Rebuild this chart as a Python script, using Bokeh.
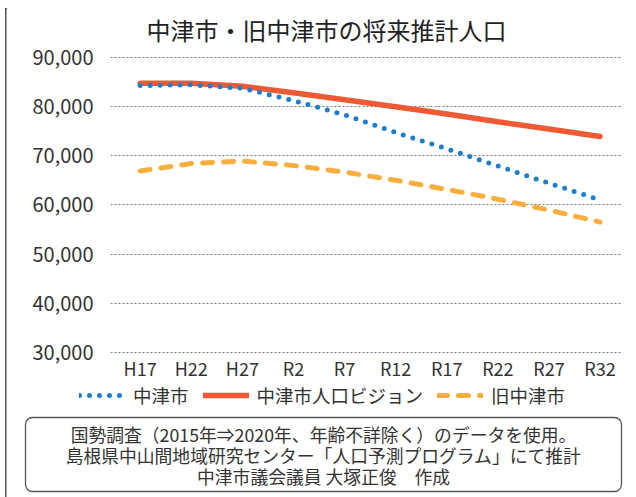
from bokeh.plotting import figure
from bokeh.models import Range1d, FixedTicker, NumeralTickFormatter, Legend, LegendItem
from bokeh.layouts import row, column
from bokeh.core.properties import value
from bokeh.embed import file_html
from bokeh.resources import INLINE

# ---- data ----
categories = ["H17", "H22", "H27", "R2", "R7", "R12", "R17", "R22", "R27", "R32"]
nakatsu = [84250, 84400, 83700, 81200, 78300, 74700, 71400, 67900, 64400, 61000]
vision = [84700, 84700, 84100, 82800, 81350, 79950, 78450, 76900, 75400, 73900]
old_nakatsu = [66900, 68400, 68900, 68000, 66650, 65000, 63150, 61150, 58950, 56500]
y_ticks = [30000, 40000, 50000, 60000, 70000, 80000, 90000]

title_text = "中津市・旧中津市の将来推計人口"
legend_labels = ["中津市", "中津市人口ビジョン", "旧中津市"]
note_lines = [
    "国勢調査（2015年⇒2020年、年齢不詳除く）のデータを使用。",
    "島根県中山間地域研究センター「人口予測プログラム」にて推計",
    "中津市議会議員 大塚正俊　作成",
]

FONT = "Noto Sans CJK JP"
TXT = "#333333"
FRAME = "#555555"
style_nak = dict(line_color="#1b7fcc", line_width=5, line_dash="0 10", line_cap="round")
style_vis = dict(line_color="#ee5a33", line_width=5.5, line_cap="round")
style_old = dict(line_color="#f9ae3d", line_width=5, line_dash="10 11", line_cap="round")

STRIP = 7          # width of the left border strip
W = 636 - STRIP    # width of the main column
H_HEAD, H_CHART, H_FOOT = 9, 374, 114
H_ALL = H_HEAD + H_CHART + H_FOOT


def blank(width, height):
    f = figure(width=width, height=height, output_backend="svg",
               toolbar_location=None, x_axis_location=None,
               y_axis_location=None, min_border=0, frame_align=False,
               x_range=Range1d(0, width), y_range=Range1d(height, 0))
    f.outline_line_color = None
    f.xgrid.visible = False
    f.ygrid.visible = False
    f.background_fill_color = "white"
    f.border_fill_color = "white"
    return f


# ---- left border strip ----
strip = blank(STRIP, H_ALL)
strip.line([5.25, 5.25], [7.5, H_ALL], line_color=FRAME, line_width=1.5)
strip.line([4.5, STRIP], [8.25, 8.25], line_color=FRAME, line_width=1.5)

# ---- header (top border) ----
head = blank(W, H_HEAD)
head.line([0, W], [8.25, 8.25], line_color=FRAME, line_width=1.5)

# ---- chart ----
xs = list(range(len(categories)))
p = figure(width=W, height=H_CHART, output_backend="svg", toolbar_location=None,
           x_range=Range1d(-0.58, 9.42), y_range=Range1d(29798, 99697),
           min_border_left=103, min_border_right=15,
           min_border_top=0, min_border_bottom=28, frame_align=False)
p.outline_line_color = None
p.background_fill_color = "white"
p.border_fill_color = "white"

p.line(xs, old_nakatsu, **style_old)
p.line(xs, vision, **style_vis)
p.line(xs, nakatsu, **style_nak)

# title, placed in the empty space above the 90,000 gridline
p.text(x=[3.647], y=[95657], text=[title_text], text_font=value(FONT),
       text_font_size=value("24px"), text_color="#222222",
       text_align="center", text_baseline="middle")

p.xaxis.ticker = FixedTicker(ticks=xs)
p.xaxis.major_label_overrides = {i: c for i, c in enumerate(categories)}
p.yaxis.ticker = FixedTicker(ticks=y_ticks)
p.yaxis.formatter = NumeralTickFormatter(format="0,0")
for ax in (p.xaxis, p.yaxis):
    ax.axis_line_color = None
    ax.major_tick_line_color = None
    ax.minor_tick_line_color = None
    ax.major_tick_out = 0
    ax.major_tick_in = 0
    ax.major_label_text_font = FONT
    ax.major_label_text_color = TXT
p.yaxis.major_label_text_font_size = "20px"
p.yaxis.major_label_standoff = 17
p.xaxis.major_label_text_font_size = "18px"
p.xaxis.major_label_standoff = 1

p.xgrid.grid_line_color = None
p.ygrid.ticker = FixedTicker(ticks=y_ticks)
p.ygrid.grid_line_color = "#777777"
p.ygrid.grid_line_dash = "2 2"
p.ygrid.grid_line_width = 1

# ---- footer (legend + note box) ----
foot = blank(W, H_FOOT)
# legend sample renderers: same data/style, fall outside this panel's range
l_nak = foot.line(xs, nakatsu, **style_nak)
l_vis = foot.line(xs, vision, **style_vis)
l_old = foot.line(xs, old_nakatsu, **style_old)
legend = Legend(items=[LegendItem(label=legend_labels[0], renderers=[l_nak]),
                       LegendItem(label=legend_labels[1], renderers=[l_vis]),
                       LegendItem(label=legend_labels[2], renderers=[l_old])],
                orientation="horizontal", location=(72, 89),
                padding=0, margin=0, spacing=14, label_standoff=8,
                glyph_width=46, glyph_height=20, label_height=20,
                label_text_font=FONT, label_text_font_size="18.5px",
                label_text_color=TXT, border_line_color=None,
                background_fill_alpha=0)
foot.add_layout(legend, "center")

foot.quad(left=[18], right=[614], top=[34], bottom=[108], fill_alpha=0,
          line_color=FRAME, line_width=1.3, border_radius=7)
foot.text(x=[316, 316, 316], y=[50, 71, 92], text=note_lines,
          text_font=value(FONT), text_font_size=value("17.8px"),
          text_color=TXT, text_align="center", text_baseline="middle")

layout = row(strip, column(head, p, foot, spacing=0), spacing=0)

open("out.html", "w").write(file_html(layout, INLINE))
